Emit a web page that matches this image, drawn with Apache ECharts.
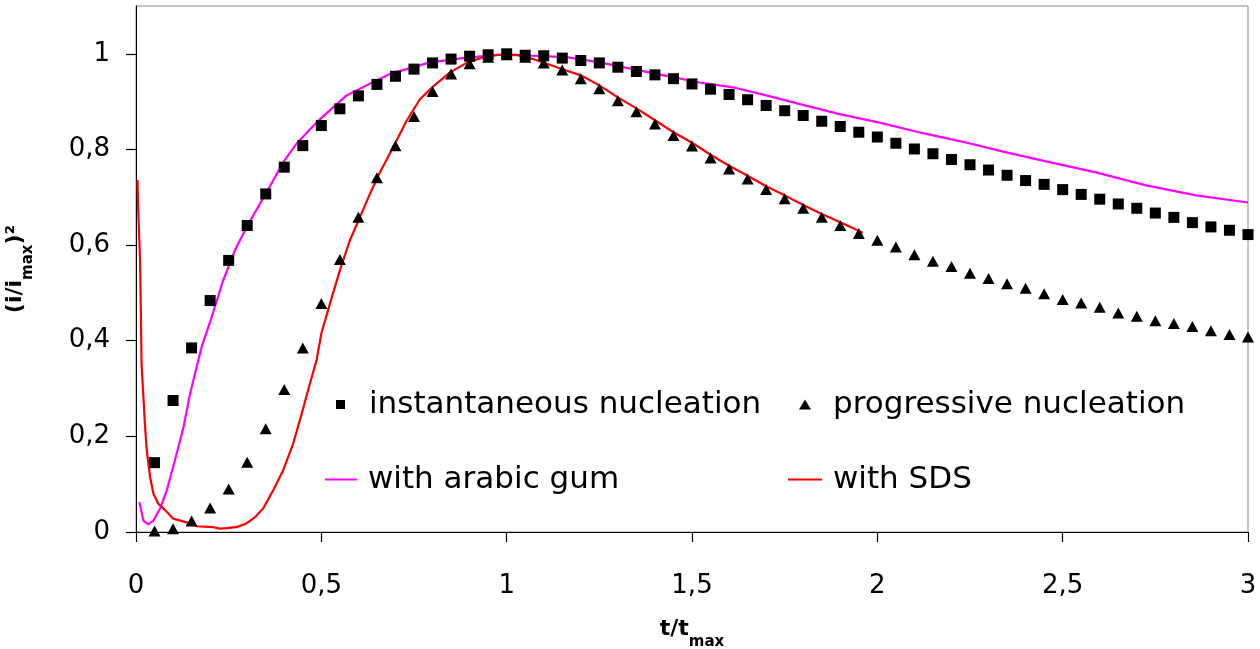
<!DOCTYPE html>
<html>
<head>
<meta charset="utf-8">
<script src="https://cdn.jsdelivr.net/npm/echarts@6/dist/echarts.min.js"></script>
<style>
  html, body { margin: 0; padding: 0; background: #fff; }
  #chart { width: 1260px; height: 649px; }
</style>
</head>
<body>
<div id="chart"></div>
<script>
// t/tmax and (i/imax)^2
var instX = [0.05,0.10,0.15,0.20,0.25,0.30,0.35,0.40,0.45,0.50,0.55,0.60,0.65,0.70,0.75,0.80,0.85,0.90,0.95,1.00,
             1.05,1.10,1.15,1.20,1.25,1.30,1.35,1.40,1.45,1.50,1.55,1.60,1.65,1.70,1.75,1.80,1.85,1.90,1.95,2.00,
             2.05,2.10,2.15,2.20,2.25,2.30,2.35,2.40,2.45,2.50,2.55,2.60,2.65,2.70,2.75,2.80,2.85,2.90,2.95,3.00];
var instY = [0.145,0.275,0.385,0.484,0.568,0.641,0.707,0.763,0.808,0.850,0.885,0.912,0.936,0.953,0.968,0.981,0.989,0.995,0.998,1.000,
             0.997,0.996,0.991,0.986,0.981,0.972,0.963,0.956,0.948,0.937,0.926,0.915,0.904,0.892,0.881,0.871,0.859,0.848,0.836,0.826,
             0.813,0.801,0.791,0.779,0.768,0.757,0.746,0.735,0.727,0.716,0.706,0.696,0.686,0.677,0.667,0.658,0.647,0.638,0.631,0.622];
var progY = [0.002,0.007,0.023,0.050,0.090,0.146,0.216,0.298,0.385,0.478,0.570,0.658,0.741,0.808,0.869,0.921,0.958,0.979,0.993,0.998,
             0.993,0.981,0.966,0.948,0.927,0.902,0.879,0.853,0.829,0.807,0.782,0.759,0.738,0.716,0.697,0.677,0.658,0.641,0.624,0.610,
             0.596,0.580,0.566,0.555,0.541,0.530,0.519,0.510,0.498,0.486,0.479,0.470,0.458,0.451,0.442,0.436,0.430,0.421,0.413,0.408];

var gumX = [0.009,0.02,0.033,0.047,0.065,0.083,0.105,0.128,0.146,0.159,0.177,0.204,0.235,0.267,0.298,0.334,0.37,0.397,0.433,0.474,
            0.5,0.532,0.568,0.622,0.685,0.73,0.793,0.892,0.981,1.071,1.161,1.251,1.341,1.431,1.521,1.61,1.7,1.781,1.898,2.006,
            2.123,2.231,2.348,2.455,2.59,2.725,2.86,3.0];
var gumY = [0.063,0.024,0.016,0.024,0.049,0.087,0.15,0.219,0.289,0.331,0.387,0.449,0.526,0.589,0.637,0.686,0.735,0.773,0.812,0.846,
            0.866,0.888,0.913,0.934,0.958,0.968,0.982,0.992,0.998,0.996,0.993,0.982,0.968,0.954,0.94,0.93,0.913,0.897,0.874,0.856,
            0.834,0.816,0.794,0.775,0.752,0.725,0.704,0.689];

var sdsX = [0.004,0.006,0.011,0.013,0.015,0.02,0.024,0.029,0.038,0.047,0.06,0.074,0.1,0.146,0.164,0.209,0.226,0.244,0.271,0.298,
            0.321,0.343,0.37,0.397,0.424,0.447,0.469,0.487,0.5,0.523,0.55,0.577,0.604,0.631,0.658,0.694,0.73,0.766,0.802,0.847,
            0.892,0.937,0.981,1.026,1.071,1.116,1.161,1.2,1.25,1.3,1.35,1.4,1.45,1.5,1.55,1.6,1.65,1.7,1.75,1.8,
            1.85,1.9,1.961];
var sdsY = [0.736,0.672,0.568,0.463,0.352,0.282,0.226,0.171,0.115,0.08,0.059,0.049,0.028,0.018,0.012,0.01,0.007,0.008,0.01,0.018,
            0.031,0.049,0.087,0.129,0.185,0.247,0.31,0.359,0.415,0.477,0.547,0.61,0.658,0.707,0.752,0.805,0.86,0.905,0.932,0.961,
            0.981,0.993,0.998,0.998,0.989,0.977,0.965,0.955,0.934,0.909,0.886,0.861,0.836,0.814,0.789,0.766,0.745,0.723,0.704,0.684,
            0.665,0.648,0.626];

var xTicks = [0, 0.5, 1, 1.5, 2, 2.5, 3];
var yTicks = [0, 0.2, 0.4, 0.6, 0.8, 1];

function pairs(xs, ys) {
    return xs.map(function(x, i) { return [x, ys[i]]; });
}
function comma(v) {
    return String(Math.round(v * 10) / 10).replace('.', ',');
}

var FONT = 'DejaVu Sans';
var legendText = { fontFamily: FONT, fontSize: 31, color: '#000' };

function oneLegend(name, left, top, w, h, gap, icon) {
    return {
        data: [{ name: name, icon: icon }], left: left, top: top, padding: 0,
        itemWidth: w, itemHeight: h, selectedMode: false,
        textStyle: Object.assign({ padding: [0, 0, 0, gap] }, legendText)
    };
}

var nameRich = {
    m: { fontFamily: FONT, fontSize: 22, fontWeight: 'bold', color: '#000', lineHeight: 32, verticalAlign: 'top' },
    s: { fontFamily: FONT, fontSize: 15, fontWeight: 'bold', color: '#000', lineHeight: 16, verticalAlign: 'bottom' }
};

var chart = echarts.init(document.getElementById('chart'), null, { renderer: 'canvas' });
chart.setOption({
    backgroundColor: '#fff',
    animation: false,
    grid: {
        left: 136, right: 12, top: 6, bottom: 117, outerBoundsMode: 'none', containLabel: false,
        show: true, borderColor: '#8c8c8c', borderWidth: 1
    },
    legend: [
        oneLegend('instantaneous nucleation', 336, 389, 9, 9, 19, 'rect'),
        oneLegend('progressive nucleation', 799, 389, 12, 10, 17, 'triangle'),
        oneLegend('with arabic gum', 325, 464, 32, 2, 6, 'rect'),
        oneLegend('with SDS', 788, 464, 34, 2, 6, 'rect')
    ],
    xAxis: {
        type: 'value', min: 0, max: 3, interval: 0.5,
        name: '{m|t/t}{s|max}', nameLocation: 'middle', nameGap: 86,
        nameTextStyle: { rich: nameRich },
        axisLine: { lineStyle: { color: '#000', width: 1 } },
        axisTick: { show: true, length: 10, inside: false, lineStyle: { color: '#000', width: 1.2 }, customValues: xTicks },
        axisLabel: { margin: 41, fontFamily: FONT, fontSize: 26, color: '#000', formatter: comma, customValues: xTicks },
        splitLine: { show: false }
    },
    yAxis: {
        type: 'value', min: 0, max: 1.1,
        name: '{m|(i/i}{s|max}{m|)²}', nameLocation: 'middle', nameGap: 100, nameRotate: 90,
        nameTextStyle: { rich: nameRich },
        axisLine: { show: true, lineStyle: { color: '#000', width: 1 } },
        axisTick: { show: true, length: 10, inside: false, lineStyle: { color: '#000', width: 1.2 }, customValues: yTicks },
        axisLabel: { margin: 26, fontFamily: FONT, fontSize: 26, color: '#000', formatter: comma, customValues: yTicks },
        splitLine: { show: false }
    },
    series: [
        {
            name: 'with arabic gum', type: 'line', data: pairs(gumX, gumY),
            symbol: 'none', lineStyle: { color: '#ff00ff', width: 2.2 }, itemStyle: { color: '#ff00ff' }, z: 2
        },
        {
            name: 'with SDS', type: 'line', data: pairs(sdsX, sdsY),
            symbol: 'none', lineStyle: { color: '#ff0000', width: 2.2 }, itemStyle: { color: '#ff0000' }, z: 2
        },
        {
            name: 'instantaneous nucleation', type: 'scatter', data: pairs(instX, instY),
            symbol: 'rect', symbolSize: 11, itemStyle: { color: '#000', opacity: 1 }, z: 3
        },
        {
            name: 'progressive nucleation', type: 'scatter', data: pairs(instX, progY),
            symbol: 'triangle', symbolSize: [12, 11], itemStyle: { color: '#000', opacity: 1 }, z: 3
        }
    ]
});
</script>
</body>
</html>
